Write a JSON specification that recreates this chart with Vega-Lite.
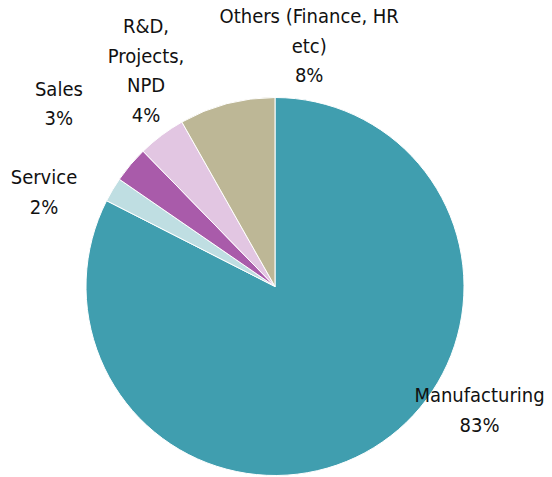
{
  "$schema": "https://vega.github.io/schema/vega-lite/v6.json",
  "autosize": {"type": "none"},
  "width": 550,
  "height": 383,
  "padding": {"top": 95, "left": 0, "right": 2, "bottom": 0},
  "background": "white",
  "config": {"view": {"stroke": null}},
  "data": {
    "values": [
      {"category": "Manufacturing", "label": "Manufacturing\n83%", "value": 82.5, "order": 1},
      {"category": "Service", "label": "Service\n2%", "value": 2.1, "order": 2},
      {"category": "Sales", "label": "Sales\n3%", "value": 3.1, "order": 3},
      {"category": "R&D, Projects, NPD", "label": "R&D,\nProjects,\nNPD\n4%", "value": 4.1, "order": 4},
      {"category": "Others (Finance, HR etc)", "label": "Others (Finance, HR\netc)\n8%", "value": 8.2, "order": 5}
    ]
  },
  "encoding": {
    "theta": {"field": "value", "type": "quantitative", "stack": true},
    "order": {"field": "order", "type": "quantitative"}
  },
  "layer": [
    {
      "mark": {"type": "arc", "outerRadius": 189, "stroke": "white", "strokeWidth": 1},
      "encoding": {
        "color": {
          "field": "category",
          "type": "nominal",
          "scale": {
            "domain": ["Manufacturing", "Service", "Sales", "R&D, Projects, NPD", "Others (Finance, HR etc)"],
            "range": ["#409EAF", "#BFDEE2", "#A95BAA", "#E2C6E2", "#BDB796"]
          },
          "legend": null
        }
      }
    },
    {
      "mark": {"type": "text", "radius": 232, "thetaOffset": -0.5294, "font": "DejaVu Sans Condensed", "fontSize": 20, "lineHeight": 29.5, "lineBreak": "\n", "align": "center", "baseline": "middle", "color": "#111111"},
      "encoding": {"text": {"condition": {"test": "datum.category === 'Manufacturing'", "field": "label"}, "value": ""}}
    },
    {
      "mark": {"type": "text", "radius": 255.2, "thetaOffset": -0.0984, "font": "DejaVu Sans Condensed", "fontSize": 20, "lineHeight": 29.5, "lineBreak": "\n", "align": "center", "baseline": "middle", "color": "#111111"},
      "encoding": {"text": {"condition": {"test": "datum.category === 'Service'", "field": "label"}, "value": ""}}
    },
    {
      "mark": {"type": "text", "radius": 292.2, "thetaOffset": 0.0377, "font": "DejaVu Sans Condensed", "fontSize": 20, "lineHeight": 29.5, "lineBreak": "\n", "align": "center", "baseline": "middle", "color": "#111111"},
      "encoding": {"text": {"condition": {"test": "datum.category === 'Sales'", "field": "label"}, "value": ""}}
    },
    {
      "mark": {"type": "text", "radius": 289.4, "thetaOffset": 0.182, "font": "DejaVu Sans Condensed", "fontSize": 20, "lineHeight": 29.5, "lineBreak": "\n", "align": "center", "baseline": "middle", "color": "#111111"},
      "encoding": {"text": {"condition": {"test": "datum.category === 'R&D, Projects, NPD'", "field": "label"}, "value": ""}}
    },
    {
      "mark": {"type": "text", "radius": 271.6, "thetaOffset": 0.3838, "font": "DejaVu Sans Condensed", "fontSize": 20, "lineHeight": 29.5, "lineBreak": "\n", "align": "center", "baseline": "middle", "color": "#111111"},
      "encoding": {"text": {"condition": {"test": "datum.category === 'Others (Finance, HR etc)'", "field": "label"}, "value": ""}}
    }
  ]
}
